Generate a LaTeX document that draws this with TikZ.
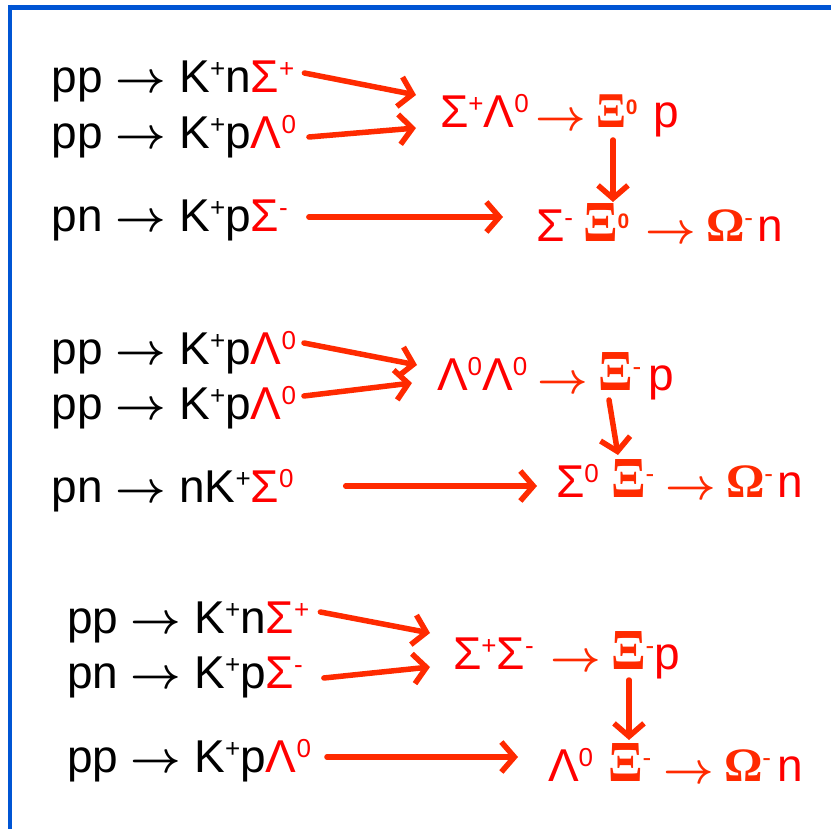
\documentclass[tikz,border=0pt]{standalone}
\usepackage{fontspec}
\setmainfont{Liberation Sans}
\newfontfamily\xifont{Liberation Serif}
\usetikzlibrary{arrows.meta}
\definecolor{redA}{RGB}{255,0,0}
\definecolor{orangeR}{RGB}{255,42,0}
\definecolor{borderblue}{RGB}{0,85,212}
\newcommand\hi[1]{\raisebox{15pt}{\fontsize{26}{26}\selectfont #1}}
\newcommand\xsup[1]{\raisebox{13pt}{\fontsize{21}{21}\selectfont\bfseries #1}}
\newcommand\XiG[1]{{\color{orangeR}\xifont\bfseries\fontsize{#1}{#1}\selectfont\scalebox{0.88}[1]{Ξ}}}
\newcommand\OmG{{\color{orangeR}\xifont\bfseries\fontsize{48}{48}\selectfont Ω}}
\newcommand\ar{\scalebox{4.4}{\fontsize{10}{12}\selectfont\boldmath$\rightarrow$}}
\begin{document}
\begin{tikzpicture}[x=1pt,y=-1pt,
  txt/.style={anchor=base west,inner sep=0pt,outer sep=0pt,font=\fontsize{46}{50}\selectfont},
  rtxt/.style={txt,text=redA},
  otxt/.style={txt,text=orangeR},
  big/.style={draw=orangeR,line width=5.5pt,line cap=round,
    -{Straight Barb[length=13pt,width=30pt,line width=5.5pt]}}]
\useasboundingbox (0,0) rectangle (831,829);
\draw[borderblue,line width=4pt] (10,5) -- (10,829);
\draw[borderblue,line width=5pt] (8,7.5) -- (831,7.5);
% left column
\node[txt] (L11) at (52,93) {pp \ar{} K\hi{+}n{\color{redA}Σ\hi{+}}};
\node[txt] (L12) at (52,149) {pp \ar{} K\hi{+}p{\color{redA}Λ\hi{0}}};
\node[txt] (L13) at (52,232) {pn \ar{} K\hi{+}p{\color{redA}Σ\hi{-}}};
\node[txt] (L21) at (52,365) {pp \ar{} K\hi{+}p{\color{redA}Λ\hi{0}}};
\node[txt] (L22) at (52,420) {pp \ar{} K\hi{+}p{\color{redA}Λ\hi{0}}};
\node[txt] (L23) at (52,502) {pn \ar{} nK\hi{+}{\color{redA}Σ\hi{0}}};
\node[txt] (L31) at (67,633) {pp \ar{} K\hi{+}n{\color{redA}Σ\hi{+}}};
\node[txt] (L32) at (67,688) {pn \ar{} K\hi{+}p{\color{redA}Σ\hi{-}}};
\node[txt] (L33) at (67,772) {pp \ar{} K\hi{+}p{\color{redA}Λ\hi{0}}};
% group 1 right
\node[rtxt] (R11) at (440,128) {Σ\hi{+}Λ\hi{0}};
\node[otxt] (A11) at (535,131) {\ar};
\node[txt] (X11) at (596,128) {\XiG{50}{\color{orangeR}\xsup{0}}};
\node[rtxt] (P11) at (653,128) {p};
\node[rtxt] (R12) at (536,242) {Σ\hi{-}};
\node[txt] (X12) at (583,242) {\XiG{58}{\color{orangeR}\xsup{0}}};
\node[otxt] (A12) at (645,244) {\ar};
\node[txt] (O12) at (706,242) {\OmG{\color{orangeR}\hi{-}}};
\node[rtxt] (N12) at (757,242) {n};
% group 2 right
\node[rtxt] (R21) at (437,391) {Λ\hi{0}Λ\hi{0}};
\node[otxt] (A21) at (537,393) {\ar};
\node[txt] (X21) at (598,391) {\XiG{58}{\color{orangeR}\hi{-}}};
\node[rtxt] (P21) at (648,391) {p};
\node[rtxt] (R22) at (556,497) {Σ\hi{0}};
\node[txt] (X22) at (611,497) {\XiG{58}{\color{orangeR}\hi{-}}};
\node[otxt] (A22) at (665,499) {\ar};
\node[txt] (O22) at (726,497) {\OmG{\color{orangeR}\hi{-}}};
\node[rtxt] (N22) at (777,497) {n};
% group 3 right
\node[rtxt] (R31) at (453,669) {Σ\hi{+}Σ\hi{-}};
\node[otxt] (A31) at (550,671) {\ar};
\node[txt] (X31) at (611,669) {\XiG{58}{\color{orangeR}\hi{-}}};
\node[rtxt] (P31) at (654,669) {p};
\node[rtxt] (R32) at (548,781) {Λ\hi{0}};
\node[txt] (X32) at (608,781) {\XiG{58}{\color{orangeR}\hi{-}}};
\node[otxt] (A32) at (663,783) {\ar};
\node[txt] (O32) at (724,781) {\OmG{\color{orangeR}\hi{-}}};
\node[rtxt] (N32) at (777,781) {n};
% thick arrows group 1
\draw[big] ([xshift=10pt,yshift=20pt]L11.base east) -- ([xshift=-24pt,yshift=33pt]R11.base west);
\draw[big] ([xshift=13pt,yshift=12pt]L12.base east) -- ([xshift=-24pt,yshift=0pt]R11.base west);
\draw[big] ([xshift=21pt,yshift=15pt]L13.base east) -- ([xshift=-33pt,yshift=25pt]R12.base west);
\draw[big] ([xshift=17pt,yshift=-12pt]X11.base west) -- ([xshift=30pt,yshift=40pt]X12.base west);
% group 2
\draw[big] ([xshift=8pt,yshift=22pt]L21.base east) -- ([xshift=-20pt,yshift=26pt]R21.base west);
\draw[big] ([xshift=8pt,yshift=24pt]L22.base east) -- ([xshift=-25pt,yshift=8pt]R21.base west);
\draw[big] ([xshift=52pt,yshift=16pt]L23.base east) -- ([xshift=-19pt,yshift=11pt]R22.base west);
\draw[big] ([xshift=11pt,yshift=-9pt]X21.base west) -- ([xshift=7pt,yshift=42pt]X22.base west);
% group 3
\draw[big] ([xshift=11pt,yshift=21pt]L31.base east) -- ([xshift=-23pt,yshift=36pt]R31.base west);
\draw[big] ([xshift=21pt,yshift=10pt]L32.base east) -- ([xshift=-23pt,yshift=2pt]R31.base west);
\draw[big] ([xshift=16pt,yshift=15pt]L33.base east) -- ([xshift=-30pt,yshift=24pt]R32.base west);
\draw[big] ([xshift=18pt,yshift=-11pt]X31.base west) -- ([xshift=21pt,yshift=41pt]X32.base west);
\end{tikzpicture}
\end{document}
